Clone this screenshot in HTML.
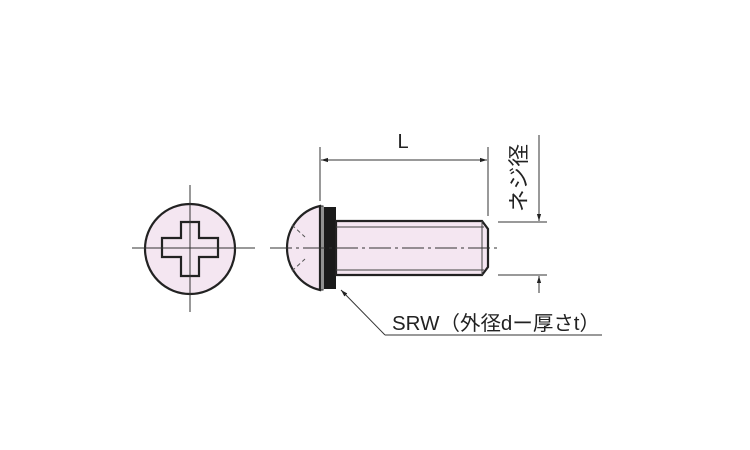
<!DOCTYPE html>
<html><head><meta charset="utf-8"><style>
html,body{margin:0;padding:0;background:#fff;width:750px;height:450px;overflow:hidden}
</style></head><body>
<svg width="750" height="450" viewBox="0 0 750 450" xmlns="http://www.w3.org/2000/svg" font-family="'Liberation Sans','Noto Sans CJK JP',sans-serif">
<defs>
<marker id="a" viewBox="0 0 10 10" refX="10" refY="5" markerWidth="7" markerHeight="7" orient="auto-start-reverse"><path d="M0,2 L10,5 L0,8 z" fill="#222"/></marker>
</defs>
<!-- front view -->
<circle cx="190" cy="249" r="45" fill="#f4e6f1" stroke="#222" stroke-width="2.2"/>
<path d="M181,222 H199 V238 H218 V257 H199 V276 H181 V257 H162 V238 H181 Z" fill="#f4e6f1" stroke="#222" stroke-width="2.2"/>
<line x1="132" y1="248" x2="255" y2="248" stroke="#333" stroke-width="1"/>
<line x1="190" y1="185" x2="190" y2="312" stroke="#333" stroke-width="1"/>
<!-- side view head -->
<path d="M320,206 A42,43 0 0 0 320,290 Z" fill="#f4e6f1" stroke="#222" stroke-width="2.2"/>
<line x1="292" y1="225" x2="305" y2="237" stroke="#555" stroke-dasharray="4,3"/>
<line x1="292" y1="271" x2="305" y2="259" stroke="#555" stroke-dasharray="4,3"/>
<rect x="321" y="206" width="2" height="84" fill="#fff" stroke="#222" stroke-width="1"/>
<rect x="324" y="207" width="12" height="82" fill="#1a1a1a"/>
<!-- shank -->
<path d="M336,221 H482 L488,229 V267 L482,275 H336 Z" fill="#f4e6f1" stroke="#222" stroke-width="2.2"/>
<line x1="336" y1="227" x2="484" y2="227" stroke="#444" stroke-width="1"/>
<line x1="336" y1="270" x2="484" y2="270" stroke="#444" stroke-width="1"/>
<line x1="482" y1="221" x2="482" y2="275" stroke="#444" stroke-width="1"/>
<line x1="270" y1="248" x2="497" y2="248" stroke="#333" stroke-width="1" stroke-dasharray="22,4,3,4"/>
<!-- L dimension -->
<line x1="320" y1="147" x2="320" y2="201" stroke="#333"/>
<line x1="488" y1="147" x2="488" y2="216" stroke="#333"/>
<line x1="321" y1="160" x2="487" y2="160" stroke="#333" marker-start="url(#a)" marker-end="url(#a)"/>
<text x="403" y="148" font-size="20" fill="#222" text-anchor="middle">L</text>
<!-- thread dia -->
<line x1="498" y1="222" x2="547" y2="222" stroke="#333"/>
<line x1="498" y1="275" x2="547" y2="275" stroke="#333"/>
<line x1="539" y1="135" x2="539" y2="221" stroke="#333" marker-end="url(#a)"/>
<line x1="539" y1="293" x2="539" y2="276" stroke="#333" marker-end="url(#a)"/>
<text transform="translate(526,178) rotate(-90)" font-size="21" fill="#222" text-anchor="middle" textLength="68" lengthAdjust="spacingAndGlyphs">ネジ径</text>
<!-- leader -->
<line x1="385" y1="335" x2="341" y2="290" stroke="#333" marker-end="url(#a)"/>
<line x1="385" y1="335" x2="602" y2="335" stroke="#333"/>
<text x="392" y="330" font-size="20" fill="#222" textLength="208" lengthAdjust="spacingAndGlyphs">SRW<tspan font-family="'Noto Sans CJK JP',sans-serif">（外径</tspan>d<tspan font-family="'Noto Sans CJK JP',sans-serif">ー厚さ</tspan>t<tspan font-family="'Noto Sans CJK JP',sans-serif">）</tspan></text>
</svg>
</body></html>
